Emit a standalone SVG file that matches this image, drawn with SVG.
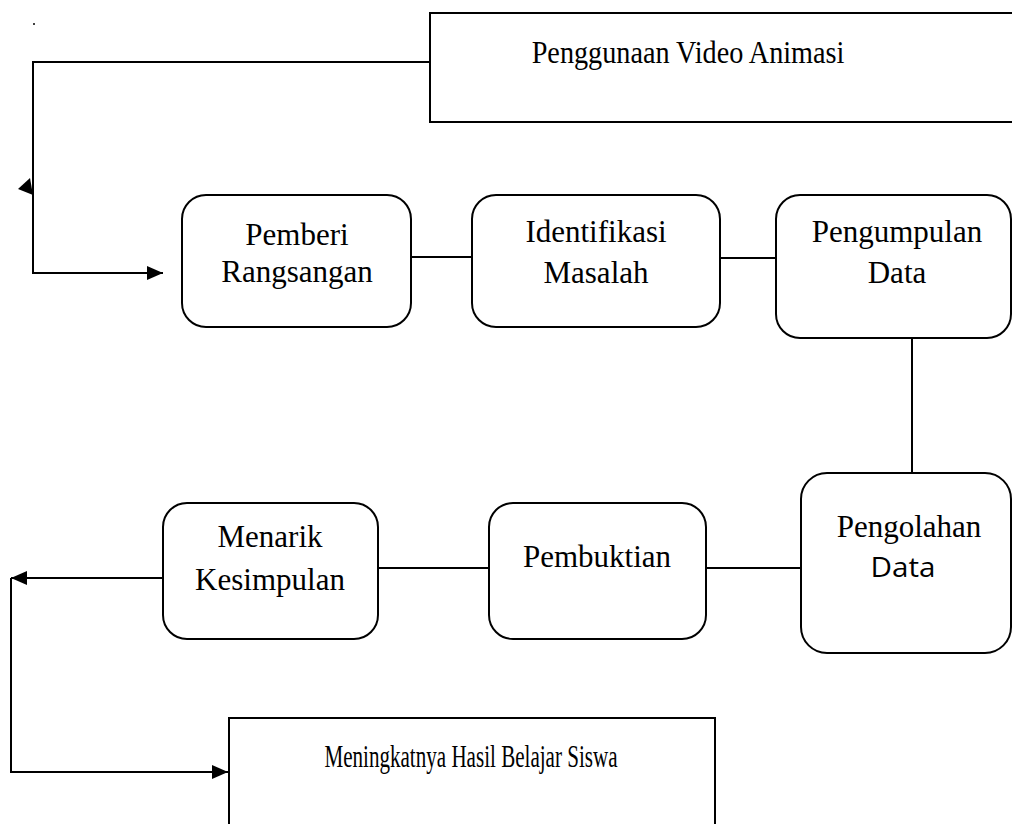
<svg xmlns="http://www.w3.org/2000/svg" width="1012" height="824" viewBox="0 0 1012 824">
<style>
.box{fill:#fff;stroke:#000;stroke-width:2}
.ln{fill:none;stroke:#000;stroke-width:2}
.t{font-family:"Liberation Serif","Times New Roman",serif;font-size:31px;fill:#000;text-anchor:middle}
.s{font-family:"Open Sans","Liberation Sans",sans-serif;font-size:27px;fill:#000;text-anchor:middle}
</style>
<defs>
<marker id="ah" viewBox="0 0 16 14" refX="16" refY="7" markerWidth="16" markerHeight="14" markerUnits="userSpaceOnUse" orient="auto">
<path d="M0,0 L16,7 L0,14 Z" fill="#000"/>
</marker>
</defs>
<rect width="1012" height="824" fill="#fff"/>
<circle cx="34" cy="24" r="1" fill="#000"/>
<g id="connectors">
<path class="ln" d="M430,62 H33 V273 H163" marker-end="url(#ah)"/>
<polygon points="18,189 30,178 33,195" fill="#000"/>
<line class="ln" x1="411" y1="257" x2="472" y2="257"/>
<line class="ln" x1="720" y1="258" x2="776" y2="258"/>
<line class="ln" x1="912" y1="338" x2="912" y2="473"/>
<line class="ln" x1="706" y1="568" x2="801" y2="568"/>
<line class="ln" x1="378" y1="568" x2="489" y2="568"/>
<path class="ln" d="M163,578 H11" marker-end="url(#ah)"/>
<path class="ln" d="M11,578 V772 H228" marker-end="url(#ah)"/>
</g>
<g id="n-video">
<rect class="box" x="430" y="13" width="600" height="109"/>
<text class="t" transform="translate(688,63) scale(0.91,1)">Penggunaan Video Animasi</text>
</g>
<g id="n-pemberi">
<rect class="box" x="182" y="195" width="229" height="132" rx="24"/>
<text class="t" x="297" y="245">Pemberi</text>
<text class="t" x="297" y="282">Rangsangan</text>
</g>
<g id="n-identifikasi">
<rect class="box" x="472" y="195" width="248" height="132" rx="24"/>
<text class="t" x="596" y="242">Identifikasi</text>
<text class="t" x="596" y="283">Masalah</text>
</g>
<g id="n-pengumpulan">
<rect class="box" x="776" y="195" width="235" height="143" rx="24"/>
<text class="t" x="897" y="242">Pengumpulan</text>
<text class="t" x="897" y="283">Data</text>
</g>
<g id="n-pengolahan">
<rect class="box" x="801" y="473" width="210" height="180" rx="26"/>
<text class="t" x="909" y="537">Pengolahan</text>
<text class="s" x="903" y="577" textLength="65" lengthAdjust="spacingAndGlyphs">Data</text>
</g>
<g id="n-pembuktian">
<rect class="box" x="489" y="503" width="217" height="136" rx="24"/>
<text class="t" x="597" y="567">Pembuktian</text>
</g>
<g id="n-menarik">
<rect class="box" x="163" y="503" width="215" height="136" rx="24"/>
<text class="t" x="270" y="547">Menarik</text>
<text class="t" x="270" y="590">Kesimpulan</text>
</g>
<g id="n-hasil">
<rect class="box" x="229" y="718" width="486" height="120"/>
<text class="t" transform="translate(471,767) scale(0.68,1)">Meningkatnya Hasil Belajar Siswa</text>
</g>
</svg>
